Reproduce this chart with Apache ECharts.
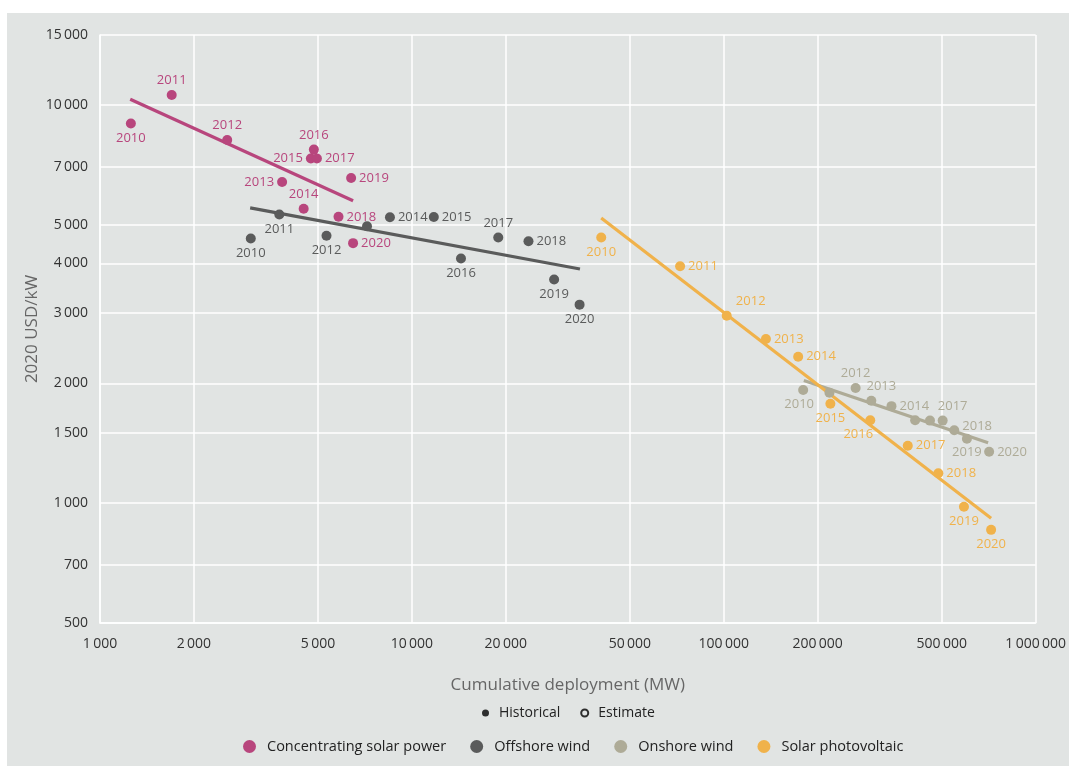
<!DOCTYPE html>
<html><head><meta charset="utf-8">
<script src="https://cdn.jsdelivr.net/npm/echarts@6/dist/echarts.min.js"></script>
<style>
html,body{margin:0;padding:0;background:#fff;width:1069px;height:766px;overflow:hidden;}
#panel{position:absolute;left:7px;top:13px;width:1062px;height:753px;background:#e1e4e3;}
#chart{position:absolute;left:0;top:0;width:1069px;height:766px;}
</style></head><body>
<div id="panel"></div><div id="chart"></div>
<script>
// ---- data ----
const years = [2010, 2011, 2012, 2013, 2014, 2015, 2016, 2017, 2018, 2019, 2020];

const cspX = [1256, 1698, 2558, 3836, 4498, 4744, 4850, 4960, 5817, 6385, 6478];
const cspY = [8990, 10600, 8170, 6410, 5490, 7345, 7730, 7340, 5240, 6560, 4500];
const cspTrendX = [1250, 6478];
const cspTrendY = [10340, 5750];

const offX = [3044, 3758, 5324, 7180, 8504, 11757, 14370, 18920, 23650, 28580, 34490];
const offY = [4624, 5309, 4695, 4960, 5227, 5233, 4116, 4651, 4550, 3648, 3153];
const offTrendX = [3030, 34590];
const offTrendY = [5520, 3874];

const onX = [179700, 218200, 264700, 297200, 344900, 410700, 458300, 503300, 548300, 602000, 709300];
const onY = [1924, 1895, 1947, 1809, 1753, 1616, 1612, 1612, 1524, 1452, 1346];
const onTrendX = [180600, 704000];
const onTrendY = [2032, 1419];

const pvX = [40460, 72440, 102200, 136500, 173200, 219700, 294900, 389000, 487500, 589000, 719700];
const pvY = [4651, 3937, 2958, 2586, 2333, 1778, 1616, 1394, 1189, 979, 857];
const pvTrendX = [40460, 719700];
const pvTrendY = [5206, 916];

const xTicks = [1000, 2000, 5000, 10000, 20000, 50000, 100000, 200000, 500000, 1000000];
const yTicks = [500, 700, 1000, 1500, 2000, 3000, 4000, 5000, 7000, 10000, 15000];

const seriesNames = ['Concentrating solar power', 'Offshore wind', 'Onshore wind', 'Solar photovoltaic'];
const markerNames = ['Historical', 'Estimate'];

// ---- styles ----
const FONT = "'Open Sans','Noto Sans',sans-serif";
const colors = { csp: '#b8467d', off: '#5a5b5b', on: '#aeab97', pv: '#f0b24b' };
// label placement per year: [position, dx, dy] or null (no label)
const cspLab = [['bottom',0,0],['top',0,0],['top',0,0],['left',0,0],['top',0,0],['left',0,0],['top',0,0],['right',0,0],['right',0,0],['right',0,0],['right',0,0]];
const offLab = [['bottom',0,0],['bottom',0,0],['bottom',0,0],null,['right',0,0],['right',0,0],['bottom',0,0],['top',0,0],['right',0,0],['bottom',0,0],['bottom',0,0]];
const onLab = [['bottom',-4,0],null,['top',0,0],['top',10,0],['right',0,0],null,null,['top',10,0],['right',0,-4],['bottom',0,-1],['right',0,0]];
const pvLab = [['bottom',0,0],['right',0,0],['top',24,0],['right',0,0],['right',0,0],['bottom',0,0],['bottom',-12,0],['right',0,0],['right',0,0],['bottom',0,0],['bottom',0,0]];

function fmt(v) {
  return String(Math.round(v)).replace(/\B(?=(\d{3})+(?!\d))/g, '\u2009');
}
function pts(xs, ys, labs) {
  return xs.map((x, i) => {
    const l = labs[i];
    return {
      value: [x, ys[i]],
      name: String(years[i]),
      label: l ? { show: true, position: l[0], offset: [l[1], l[2]] } : { show: false }
    };
  });
}
function line(xs, ys) { return xs.map((x, i) => [x, ys[i]]); }

function scatter(name, color, xs, ys, labs) {
  return {
    name: name, type: 'scatter', symbol: 'circle', symbolSize: 10, z: 3,
    itemStyle: { color: color, opacity: 1 },
    label: { show: true, formatter: p => p.name, color: color, fontFamily: FONT, fontSize: 13, distance: 3 },
    emphasis: { disabled: true },
    data: pts(xs, ys, labs)
  };
}
function trend(name, color, xs, ys) {
  return {
    name: name + ' trend', type: 'line', symbol: 'none', z: 2, silent: true,
    lineStyle: { color: color, width: 3.2 },
    data: line(xs, ys)
  };
}

const chart = echarts.init(document.getElementById('chart'), null, { renderer: 'canvas' });
chart.setOption({
  backgroundColor: 'transparent',
  animation: false,
  textStyle: { fontFamily: FONT },
  grid: { left: 100, right: 27, top: 35, bottom: 143, containLabel: false },
  xAxis: {
    type: 'log', logBase: 10, min: 1000, max: 1000000,
    name: 'Cumulative deployment (MW)', nameLocation: 'middle', nameGap: 54, nameMoveOverlap: false,
    nameTextStyle: { fontSize: 17, color: '#666', fontFamily: FONT },
    axisLine: { show: true, lineStyle: { color: '#ffffff', width: 1.5 } },
    axisTick: { show: false, customValues: xTicks },
    axisLabel: { customValues: xTicks, formatter: v => fmt(v), color: '#333', fontSize: 14, margin: 14, fontFamily: FONT },
    splitLine: { show: true, lineStyle: { color: '#ffffff', width: 1.5 } },
    minorSplitLine: { show: false }
  },
  yAxis: {
    type: 'log', logBase: 10, min: 500, max: 15000,
    name: '2020 USD/kW', nameLocation: 'middle', nameGap: 59, nameMoveOverlap: false,
    nameTextStyle: { fontSize: 17, color: '#666', fontFamily: FONT },
    axisLine: { show: true, lineStyle: { color: '#ffffff', width: 1.5 } },
    axisTick: { show: false, customValues: yTicks },
    axisLabel: { customValues: yTicks, formatter: v => fmt(v), color: '#333', fontSize: 14, margin: 12, fontFamily: FONT },
    splitLine: { show: true, lineStyle: { color: '#ffffff', width: 1.5 } }
  },
  legend: [
    {
      data: markerNames, top: 706, left: 482, padding: 0, itemWidth: 7, itemHeight: 7, itemGap: 20,
      icon: 'circle', selectedMode: false,
      textStyle: { fontSize: 14, color: '#222', fontFamily: FONT, padding: [0, 0, 0, 5] }
    },
    {
      data: seriesNames, top: 739, left: 243, padding: 0, itemWidth: 13, itemHeight: 13, itemGap: 24,
      icon: 'circle', selectedMode: false,
      textStyle: { fontSize: 14.5, color: '#222', fontFamily: FONT, padding: [0, 0, 0, 6] }
    }
  ],
  series: [
    trend(seriesNames[0], colors.csp, cspTrendX, cspTrendY),
    trend(seriesNames[1], colors.off, offTrendX, offTrendY),
    trend(seriesNames[2], colors.on, onTrendX, onTrendY),
    trend(seriesNames[3], colors.pv, pvTrendX, pvTrendY),
    scatter(seriesNames[0], colors.csp, cspX, cspY, cspLab),
    scatter(seriesNames[1], colors.off, offX, offY, offLab),
    scatter(seriesNames[2], colors.on, onX, onY, onLab),
    scatter(seriesNames[3], colors.pv, pvX, pvY, pvLab),
    { name: 'Historical', type: 'scatter', data: [], itemStyle: { color: '#000' } },
    { name: 'Estimate', type: 'scatter', data: [], itemStyle: { color: '#e1e4e3', borderColor: '#000', borderWidth: 1.5 } }
  ]
});
</script>
</body></html>
